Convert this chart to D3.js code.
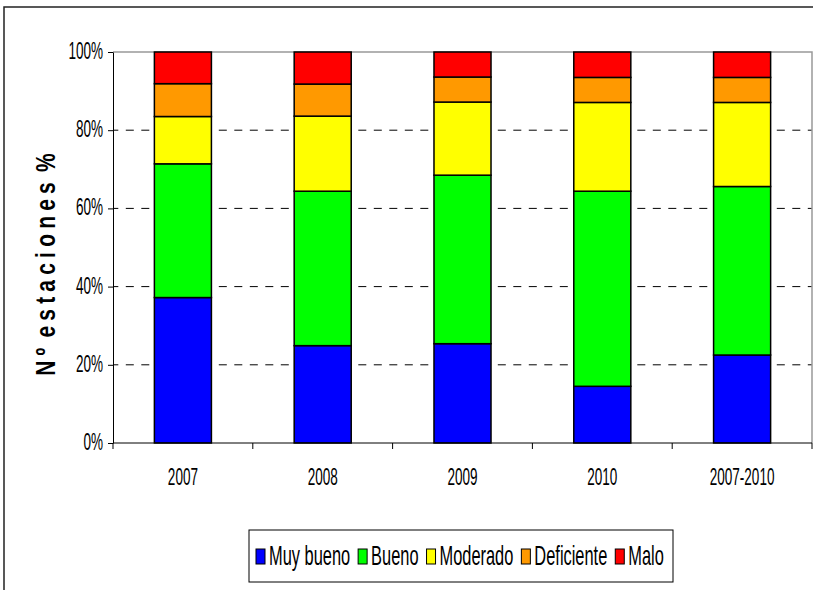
<!DOCTYPE html>
<html>
<head>
<meta charset="utf-8">
<script src="https://cdn.jsdelivr.net/npm/d3@7"></script>
<style>
  html, body { margin: 0; padding: 0; background: #fff; }
  svg { display: block; }
  text { font-family: "Liberation Sans", Arial, sans-serif; fill: #000; }
</style>
</head>
<body>
<svg id="chart" width="813" height="590"></svg>
<script>
// Station quality shares per period (percent of stations)
const categories = ["2007", "2008", "2009", "2010", "2007-2010"];
const seriesNames = ["Muy bueno", "Bueno", "Moderado", "Deficiente", "Malo"];
const muyBueno   = [37.2, 24.9, 25.4, 14.5, 22.5];
const bueno      = [34.2, 39.5, 43.1, 49.9, 43.1];
const moderado   = [12.1, 19.2, 18.7, 22.7, 21.5];
const deficiente = [8.4, 8.2, 6.4, 6.4, 6.4];
const malo       = [8.1, 8.2, 6.4, 6.5, 6.5];
const seriesColors = ["#0000FF", "#00FF00", "#FFFF00", "#FF9900", "#FF0000"];
const yTicks = [0, 20, 40, 60, 80, 100];
const yTitle = "Nº estaciones %";

const seriesValues = [muyBueno, bueno, moderado, deficiente, malo];
const rows = categories.map((c, i) => {
  const r = { cat: c };
  seriesNames.forEach((s, k) => { r[s] = seriesValues[k][i]; });
  return r;
});

const svg = d3.select("#chart");
const plot = { left: 113, right: 812, top: 52, bottom: 443 };

// Outer chart frame
svg.append("rect")
  .attr("x", 4).attr("y", 7).attr("width", 900).attr("height", 700)
  .attr("fill", "none").attr("stroke", "#222").attr("stroke-width", 1.5);

const x = d3.scaleBand().domain(categories)
  .range([plot.left, plot.right])
  .paddingInner(0.592).paddingOuter(0.296);
const y = d3.scaleLinear().domain([0, 100]).range([plot.bottom, plot.top]);

// Narrow, tall text look
const SX = 0.82, SY = 1.4;

// Dashed gridlines
svg.append("g").selectAll("line")
  .data(yTicks.filter(t => t > 0 && t < 100))
  .join("line")
  .attr("x1", plot.left).attr("x2", plot.right)
  .attr("y1", d => y(d)).attr("y2", d => y(d))
  .attr("stroke", "#000").attr("stroke-width", 1)
  .attr("stroke-dasharray", "8,7.5").attr("stroke-dashoffset", 2.7);

// Plot-area border (top and right)
svg.append("path")
  .attr("d", `M${plot.left},${y(100)}H${plot.right}V${plot.bottom}`)
  .attr("fill", "none").attr("stroke", "#999").attr("stroke-width", 1.5);

// Stacked bars
const stack = d3.stack().keys(seriesNames);
const layers = stack(rows);
svg.append("g").selectAll("g")
  .data(layers)
  .join("g")
  .attr("fill", (d, i) => seriesColors[i])
  .selectAll("rect")
  .data(d => d)
  .join("rect")
  .attr("x", d => x(d.data.cat))
  .attr("width", x.bandwidth())
  .attr("y", d => y(d[1]))
  .attr("height", d => y(d[0]) - y(d[1]))
  .attr("stroke", "#000").attr("stroke-width", 1.5);

// Y axis
const yAxis = svg.append("g")
  .attr("transform", `translate(${plot.left},0)`)
  .call(d3.axisLeft(y).tickValues(yTicks).tickFormat(d => d + "%").tickSize(5).tickSizeOuter(0));
yAxis.select(".domain").attr("stroke", "#000");
yAxis.selectAll(".tick line").attr("stroke", "#000");
yAxis.selectAll(".tick text")
  .attr("x", null).attr("dy", null)
  .attr("font-size", 16.5)
  .attr("font-family", "Liberation Sans, Arial, sans-serif")
  .attr("text-anchor", "end")
  .attr("transform", `translate(-10,6.5) scale(${SX},${SY})`);

// X axis: line, ticks at category boundaries, labels under bars
const step = x.step();
const boundaries = d3.range(categories.length + 1).map(i => plot.left + i * step);
const xAxis = svg.append("g");
xAxis.append("line")
  .attr("x1", plot.left).attr("x2", plot.right)
  .attr("y1", plot.bottom).attr("y2", plot.bottom)
  .attr("stroke", "#000");
xAxis.selectAll("line.tick").data(boundaries).join("line")
  .attr("class", "tick")
  .attr("x1", d => d).attr("x2", d => d)
  .attr("y1", plot.bottom).attr("y2", plot.bottom + 6)
  .attr("stroke", "#000");
xAxis.selectAll("text").data(categories).join("text")
  .attr("text-anchor", "middle")
  .attr("font-size", 16.5)
  .attr("transform", d => `translate(${x(d) + x.bandwidth() / 2},${485}) scale(${SX},${SY})`)
  .text(d => d);

// Y axis title
svg.append("text")
  .attr("transform", "translate(55,262) rotate(-90) scale(1,1.3)")
  .attr("text-anchor", "middle")
  .attr("font-size", 21)
  .attr("font-weight", "bold")
  .attr("letter-spacing", 5.2)
  .attr("word-spacing", -6)
  .text(yTitle);

// Legend
const legend = svg.append("g");
legend.append("rect")
  .attr("x", 249).attr("y", 530).attr("width", 424).attr("height", 52)
  .attr("fill", "#fff").attr("stroke", "#000").attr("stroke-width", 1);
let cx = 256;
seriesNames.forEach((name, i) => {
  legend.append("rect")
    .attr("x", cx).attr("y", 549).attr("width", 9).attr("height", 15)
    .attr("fill", seriesColors[i]).attr("stroke", "#000").attr("stroke-width", 1);
  const t = legend.append("text")
    .attr("font-size", 20)
    .attr("transform", `translate(${cx + 13},565) scale(${SX},${SY})`)
    .text(name);
  const w = t.node().getComputedTextLength() * SX;
  cx += 13 + w + 8;
});
</script>
</body>
</html>
